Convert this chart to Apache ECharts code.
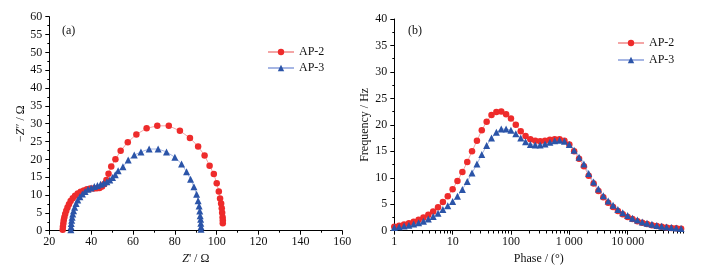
<!DOCTYPE html>
<html><head><meta charset="utf-8">
<script src="https://cdn.jsdelivr.net/npm/echarts@6/dist/echarts.min.js"></script>
<style>html,body{margin:0;padding:0;background:#fff}#c{width:713px;height:274px}</style>
</head><body><div id="c"></div>
<script>
// Panel (a): Nyquist data
const ap2Re = [26.4,26.5,26.7,26.9,27.2,27.6,28.1,28.7,29.4,30.2,31.2,32.3,33.6,35.0,36.5,38.0,39.6,41.2,42.7,44.0,45.2,46.3,47.3,48.3,49.6,51.6,54.1,57.5,61.6,66.5,71.6,77.1,82.4,87.2,91.1,94.2,96.6,98.6,100.0,101.0,101.6,102.1,102.4,102.6,102.8,102.9,102.9];
const ap2Im = [0.3,1.1,2.0,2.9,3.8,4.7,5.6,6.5,7.4,8.3,9.1,9.8,10.4,10.9,11.3,11.6,11.8,11.8,11.9,12.0,12.4,13.1,14.2,16.0,18.0,20.0,22.4,24.8,27.0,28.7,29.4,29.4,28.0,26.0,23.6,21.1,18.2,15.9,13.3,11.0,9.0,7.6,6.3,5.0,3.8,2.9,2.1];
const ap3Re = [30.3,30.4,30.5,30.7,30.9,31.2,31.6,32.1,32.8,33.6,34.6,35.8,37.1,38.5,40.0,41.5,43.0,44.5,46.0,47.5,48.9,50.2,51.5,52.9,55.2,57.7,60.6,63.8,67.7,72.0,76.0,80.0,83.2,85.6,87.5,89.1,90.4,91.1,91.6,91.9,92.1,92.3,92.4,92.5,92.5];
const ap3Im = [0.3,1.1,2.0,2.9,3.8,4.7,5.6,6.6,7.6,8.6,9.5,10.3,11.0,11.6,12.0,12.4,12.7,13.0,13.3,13.7,14.2,14.9,15.7,16.8,17.9,19.8,21.2,22.1,22.9,22.9,22.1,20.6,18.7,16.5,14.4,12.3,10.2,8.4,6.9,5.5,4.2,3.2,2.1,1.1,0.4];

// Panel (b): Bode-type data
const phase = [1,1.21,1.47,1.78,2.15,2.61,3.16,3.83,4.64,5.62,6.81,8.25,
  10,12.1,14.7,17.8,21.5,26.1,31.6,38.3,46.4,56.2,68.1,82.5,
  100,121,147,178,215,261,316,383,464,562,681,825,
  1000,1210,1470,1780,2150,2610,3160,3830,4640,5620,6810,8250,
  10000,12100,14700,17800,21500,26100,31600,38300,46400,56200,68100,82500];
const ap2Freq = [0.75,0.95,1.15,1.4,1.7,2.05,2.5,3.0,3.65,4.45,5.4,6.5,
  7.85,9.4,11.1,13.0,15.0,17.0,19.0,20.6,21.85,22.45,22.5,22.0,
  21.2,20.0,18.8,17.9,17.3,17.0,16.9,17.0,17.2,17.3,17.3,17.0,
  16.3,15.0,13.6,12.2,10.4,8.9,7.5,6.3,5.3,4.5,3.7,3.1,
  2.6,2.2,1.8,1.5,1.25,1.05,0.9,0.75,0.62,0.52,0.44,0.38];
const ap3Freq = [0.6,0.75,0.9,1.05,1.25,1.5,1.8,2.2,2.7,3.3,4.0,4.7,
  5.5,6.5,7.8,9.3,10.9,12.6,14.4,16.1,17.5,18.6,19.2,19.2,
  19.0,18.3,17.5,16.8,16.3,16.2,16.2,16.4,16.7,17.0,17.1,16.9,
  16.3,15.2,13.9,12.6,10.8,9.2,7.9,6.6,5.6,4.8,4.0,3.4,
  2.85,2.35,2.0,1.65,1.4,1.2,1.0,0.85,0.72,0.6,0.5,0.42];
const logMinorTicks = [2,3,4,5,6,7,8,9,20,30,40,50,60,70,80,90,200,300,400,500,600,700,800,900,
  2000,3000,4000,5000,6000,7000,8000,9000,20000,30000,40000,50000,60000,70000,80000,90000];
const seriesNames = ['AP-2','AP-3'];

const FONT = 'Liberation Serif';
const TXT = '#111';
const RED = '#ee2b2b', RED_L = '#f4a6a6';
const BLUE = '#2b54a8', BLUE_L = '#a6b6e4';

function zip(a,b){return a.map((v,i)=>[v,b[i]]);}
function fmtThousands(v){return String(Math.round(v)).replace(/\B(?=(\d{3})+(?!\d))/g,' ');}

const axisCommon = {
  axisLine:{show:true,onZero:false,lineStyle:{color:'#000',width:1}},
  axisTick:{show:true,inside:false,length:4,lineStyle:{color:'#000'}},
  minorTick:{show:true,splitNumber:2,length:2,lineStyle:{color:'#000'}},
  splitLine:{show:false},
  axisLabel:{fontFamily:FONT,fontSize:12,color:TXT},
  nameTextStyle:{fontFamily:FONT,fontSize:12,color:TXT},
  nameLocation:'middle'
};

const chart = echarts.init(document.getElementById('c'));
chart.setOption({
  backgroundColor:'#fff',
  animation:false,
  title:[
    {text:'(a)',left:57,top:20,textStyle:{fontFamily:FONT,fontSize:12,fontWeight:'normal',color:TXT}},
    {text:'(b)',left:403,top:20,textStyle:{fontFamily:FONT,fontSize:12,fontWeight:'normal',color:TXT}}
  ],
  legend:[
    {data:seriesNames,orient:'vertical',left:262,top:41,itemWidth:26,itemHeight:8,itemGap:4,
     textStyle:{fontFamily:FONT,fontSize:12,color:TXT}},
    {data:seriesNames,orient:'vertical',left:612,top:32,itemWidth:26,itemHeight:8,itemGap:5,
     textStyle:{fontFamily:FONT,fontSize:12,color:TXT}}
  ],
  grid:[
    {left:49.3,top:16.7,width:293,height:214,containLabel:false},
    {left:394.3,top:19,width:289,height:211.7,containLabel:false}
  ],
  xAxis:[
    Object.assign({},axisCommon,{gridIndex:0,type:'value',min:20,max:160,interval:20,
      name:"{i|Z}' / Ω",nameGap:18,axisLabel:Object.assign({},axisCommon.axisLabel,{margin:5}),
      nameTextStyle:{fontFamily:FONT,fontSize:12,color:TXT,rich:{i:{fontFamily:FONT,fontSize:12,fontStyle:'italic',color:TXT}}}}),
    Object.assign({},axisCommon,{gridIndex:1,type:'log',logBase:10,min:1,max:90000,
      name:'Phase / (°)',nameGap:18,minorTick:{show:false},
      axisLabel:Object.assign({},axisCommon.axisLabel,{margin:5,showMaxLabel:false,
        formatter:function(v){const l=Math.log10(v);return Math.abs(l-Math.round(l))<1e-6?fmtThousands(v):'';}})})
  ],
  yAxis:[
    Object.assign({},axisCommon,{gridIndex:0,type:'value',min:0,max:60,interval:5,
      name:"−{i|Z}″ / Ω",nameGap:22,axisLabel:Object.assign({},axisCommon.axisLabel,{margin:7}),
      nameTextStyle:{fontFamily:FONT,fontSize:12,color:TXT,rich:{i:{fontFamily:FONT,fontSize:12,fontStyle:'italic',color:TXT}}}}),
    Object.assign({},axisCommon,{gridIndex:1,type:'value',min:0,max:40,interval:5,
      name:'Frequency / Hz',nameGap:23,axisLabel:Object.assign({},axisCommon.axisLabel,{margin:7})})
  ],
  series:[
    {name:'AP-2',type:'line',xAxisIndex:0,yAxisIndex:0,data:zip(ap2Re,ap2Im),
     symbol:'circle',symbolSize:6.5,itemStyle:{color:RED},lineStyle:{color:RED_L,width:1}},
    {name:'AP-3',type:'line',xAxisIndex:0,yAxisIndex:0,data:zip(ap3Re,ap3Im),
     symbol:'triangle',symbolSize:7,itemStyle:{color:BLUE},lineStyle:{color:BLUE_L,width:1}},
    {name:'AP-2',type:'line',xAxisIndex:1,yAxisIndex:1,data:zip(phase,ap2Freq),
     symbol:'circle',symbolSize:6.5,itemStyle:{color:RED},lineStyle:{color:RED_L,width:1}},
    {name:'AP-3',type:'line',xAxisIndex:1,yAxisIndex:1,data:zip(phase,ap3Freq),
     symbol:'triangle',symbolSize:7,itemStyle:{color:BLUE},lineStyle:{color:BLUE_L,width:1}},
    {name:'logMinor',type:'custom',xAxisIndex:1,yAxisIndex:1,silent:true,clip:false,
     data:logMinorTicks.map(v=>[v,0]),
     renderItem:function(params,api){
       const p = api.coord([api.value(0),0]);
       const x = Math.round(p[0])+0.5, y = Math.round(p[1]);
       return {type:'line',shape:{x1:x,y1:y,x2:x,y2:y+2.5},style:{stroke:'#000',lineWidth:1}};
     }}
  ]
});
</script>
</body></html>
